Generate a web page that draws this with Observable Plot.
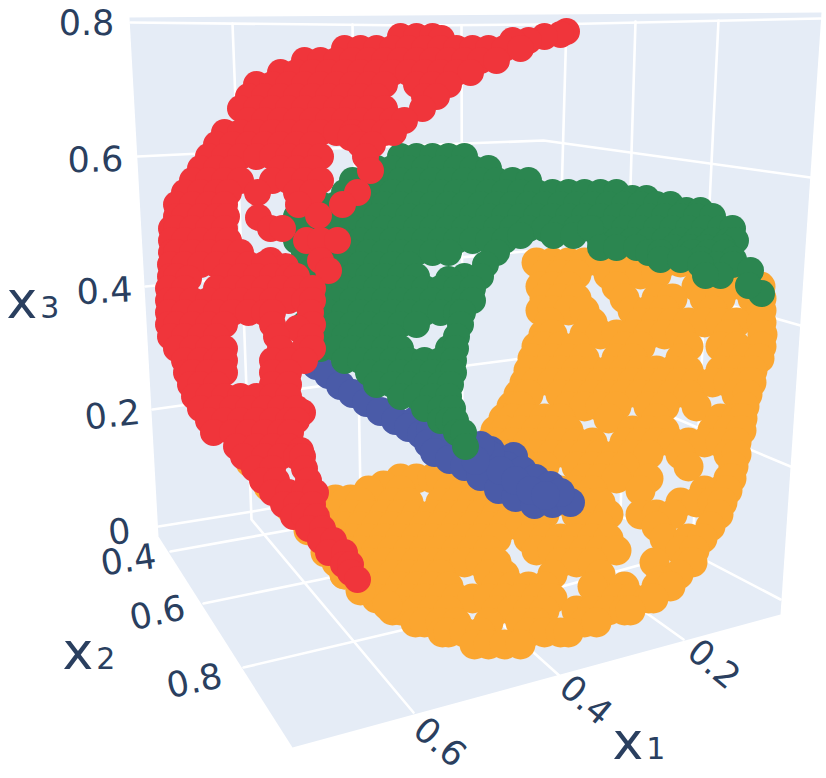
<!DOCTYPE html>
<html>
<head>
<meta charset="utf-8">
<script src="https://cdn.jsdelivr.net/npm/d3@7"></script>
<script src="https://cdn.jsdelivr.net/npm/@observablehq/plot@0.6"></script>
<style>html,body{margin:0;padding:0;background:#fff}svg{display:block}</style>
</head>
<body>
<div id="chart"></div>
<script>
// Projected view coordinates: [v, [u, u, ...]]
const orangeRows = [
[262,[536,552,568,584,600,616,632,648,664,680,696]],
[274,[544,560,576,608,624,640,656,704,720,736]],
[286,[540,552,568,616,696,712,728,744,760]],
[298,[544,560,576,624,656,672,704,720,752,761]],
[310,[540,552,568,584,632,648,664,712,760,761]],
[322,[549,592,640,656,672,688,704,720,736,761]],
[334,[543,552,584,600,616,632,648,664,680,728,762]],
[346,[536,544,560,576,624,640,688,720,736,761]],
[358,[532,552,568,584,616,632,680,728,744,759]],
[370,[528,544,560,576,592,608,624,640,656,672,688,720,736,752]],
[382,[524,536,552,568,584,600,616,632,648,664,680,696,712,728,744,751]],
[394,[518,528,560,576,592,608,624,640,656,672,688,736,747]],
[406,[511,520,568,584,600,616,648,664,696,744]],
[418,[503,512,528,544,560,608,656,720,736,742]],
[430,[495,504,520,536,552,568,632,648,664,712,728,741]],
[442,[488,496,512,528,544,560,576,592,624,640,656,672,688,704,720,736]],
[454,[488,504,520,536,552,568,584,600,616,632,648,680,728,736]],
[466,[496,512,528,544,576,592,608,624,688,733]],
[478,[400,416,432,440,456,472,488,504,520,536,584,600,616,648,728,731]],
[485,[383]],
[490,[368,400,448,464,480,496,512,528,544,560,576,592,640,704,720,727]],
[499,[350,335]],
[502,[344,360,392,408,440,456,472,488,504,520,536,552,568,584,600,680,696,712,722]],
[514,[336,352,368,384,400,416,432,448,464,480,496,512,528,544,576,592,608,640,656,672,718]],
[526,[344,360,376,392,408,424,440,456,472,488,504,520,536,584,600,656,710]],
[538,[352,368,384,400,416,432,448,464,480,496,528,544,560,576,592,608,664,688,702]],
[550,[344,360,376,392,408,424,440,456,472,488,536,552,568,584,600,616,680,694]],
[562,[336,352,368,384,400,416,432,448,464,480,496,560,576,592,654,686,692]],
[574,[344,360,376,392,408,424,440,488,504,552,600,678]],
[580,[660]],
[586,[368,384,400,416,432,448,496,512,528,544,592,624,656,670]],
[598,[376,392,408,424,440,456,472,488,504,520,536,552,616,632,648,653]],
[610,[392,400,416,432,448,496,512,528,544,576,592,608,624,630]],
[622,[415,424,440,456,488,520,536,584,596]],
[632,[442,448,464,480,528,544,560,568]],
[644,[474,488,504,520]],
[462,[250]],[486,[268]],[508,[290]],[530,[308]],[552,[325]],[574,[344]],[590,[360]],[605,[387]]
];
const blueRows = [
[365,[316]],[374,[328]],[385,[340]],[393,[352]],[402,[366]],[411,[380]],[420,[395,415]],[427,[408]],
[434,[421]],[430,[430]],[443,[428]],[440,[445]],[452,[434]],[450,[460,490]],[459,[449]],[466,[464]],
[476,[480]],[489,[498]],[497,[515]],[504,[534]],[503,[552]],[502,[570]],[456,[513]],[465,[505]],
[455,[490]],[445,[480]],[470,[522,500]],[478,[535]],[485,[550]],[492,[560]],[480,[515]],[490,[530]],
[495,[545]],[460,[475]]
];
const greenRows = [
[156,[400,416,432,448,464]],
[168,[376,392,408,424,440,456,472,488]],
[180,[352,368,384,400,416,432,448,464,480,496,512,528]],
[192,[344,360,376,392,408,424,440,456,472,488,504,520,536,552,568,584,600,616]],
[198,[632,646]],
[204,[320,336,352,368,384,400,416,432,448,464,480,496,512,528,544,560,576,592,608,624,640,656,670]],
[210,[686,700]],
[216,[296,312,328,344,360,376,392,408,424,440,456,472,488,504,520,536,552,568,584,600,616,632,648,664,680,696,712]],
[228,[288,304,320,336,352,368,384,400,416,432,448,464,480,496,512,528,544,560,576,592,608,624,640,656,672,688,704,720,732]],
[240,[296,312,328,344,360,376,392,408,424,440,456,472,488,504,600,616,632,648,664,680,696,712,728,735]],
[235,[520,553,573]],[228,[590]],
[247,[600,616,636,673,690,705,722]],
[252,[304,320,336,352,368,384,400,416,432,448,496,648,660,692,708,724]],
[259,[660,700,733,680]],
[264,[312,328,344,360,376,392,408,485,716,732,700]],
[275,[720,705]],[270,[750]],[293,[761]],[285,[748]],
[276,[320,336,352,368,384,400,416,464,480]],[279,[448]],
[288,[328,344,360,376,392,408,424,440,456,472]],
[300,[304,320,336,352,368,384,400,416,432,448,464,472]],
[312,[312,328,344,360,376,392,408,424,440,456,462]],
[324,[304,320,336,352,368,384,400,416,460]],
[336,[312,328,344,360,376,392,456]],
[348,[320,336,352,368,384,400,448,455]],
[360,[344,360,376,392,408,424,440,453]],
[372,[368,384,400,416,432,448,453]],
[384,[376,392,408,424,440,450]],
[396,[400,416,432,448]],
[408,[424,440,452]],
[420,[440,448,455]],
[432,[456,463]],
[446,[465]]
];
const redRows = [
[31,[566]],[34,[560]],[36,[400,416,432,544]],[38,[441]],[40,[528,512]],
[48,[344,360,376,392,408,424,440,456,472,488,504,520]],
[60,[304,320,336,352,368,384,400,416,432,448,464,480,496]],
[72,[280,296,312,328,344,360,376,392,408,424,440,456,470]],
[84,[256,272,288,304,320,336,352,368,384,416,432,448]],
[96,[248,264,280,296,312,328,344,360,376,424,436]],
[108,[240,256,272,288,304,320,336,352,368,384,422]],
[120,[248,264,280,296,312,328,344,360,376,392,404]],
[132,[224,240,256,272,288,304,320,336,352,368,384,393]],
[137,[350]],
[144,[216,232,248,264,280,296,312,360,372]],
[156,[208,224,240,256,272,288,304,320,365]],
[168,[200,216,232,280,296,312]],[170,[370]],
[180,[192,208,224,240,272,288,304,320]],
[192,[184,200,216,228,257,296,312,357]],
[204,[176,192,208,224,298,342]],
[217,[258]],[215,[318]],
[216,[176,184,200,216,226]],
[228,[171,176,192,208,224,270,282]],
[240,[171,184,200,216,228,306,320,337]],
[252,[171,176,192,208,224,240]],
[260,[270,320]],[266,[285]],[270,[328]],
[264,[170,184,200,216,232,248,264]],
[276,[170,176,224,240,256,272,288,296]],[278,[188]],
[288,[168,184,216,232,248,264,280,296,312]],
[300,[168,176,192,208,224,240,256,272,288,304,312]],
[312,[168,184,200,216,232,248,264,272,310]],
[324,[168,176,192,208,224,272,312]],[328,[297]],
[336,[170,184,200,216,276,310]],
[348,[176,192,208,224,280,304,312]],
[360,[184,200,216,224,272,288,304]],
[372,[186,192,208,224,272,288]],
[384,[190,200,216,272,288]],
[396,[194,208,224,240,256,272,288]],
[412,[302]],
[408,[200,216,232,248,264,280,296]],
[420,[208,224,240,256,272,288,296]],
[432,[213,232,248,264,280,290]],
[446,[236,256,272,288]],[450,[300]],
[456,[243,264,280,296,302]],
[468,[254,272,304]],
[480,[262,276,308]],
[492,[272,288,304,315]],
[504,[283,296,312]],
[516,[293,304,316]],
[528,[308,322]],
[540,[320,333]],
[552,[328,344]],
[564,[343,350]],
[572,[350]],
[579,[357]]
];

const palette = {orange:"#FBA630", blue:"#4A5BA8", green:"#2B8650", red:"#F0353B"};
const markerSize = {orange:15, blue:14.5, green:13.5, red:13.5};
const wall = [[129,17],[821,12],[780,614],[292,747],[158,536]];
const gridLines = [
[[130,22],[413,25],[548,24],[820,18]],
[[137,156],[200,153],[543,140],[810,177]],
[[145,286],[535,250],[800,325]],
[[152,409],[467,365],[521,358],[530,357],[790,466]],
[[158,526],[252,511],[520,463],[780,599]],
[[170,551],[292,529],[553,478]],
[[203,603],[320,579],[620,513]],
[[243,667],[413,627],[692,550]],
[[232,23],[251,519],[413,712]],
[[352,24],[360,496],[562,678]],
[[461,25],[462,481],[683,639]],
[[566,22],[553,478]],
[[635,21],[620,513]],
[[718,20],[692,550]]
];
const tickLabels = ["0.8","0.6","0.4","0.2","0","0.4","0.6","0.8","0.2","0.4","0.6"];
const tickU = [86,95,104,112,119,128,157,194,713,585,439];
const tickV = [23,160,291,415,532,560,613,681,664,700,742];
const tickTurn = [0,-1,-3,-6,-6,-8,-12,-12,40,40,40];
const titleNames = ["x1","x2","x3"];
const titleU = [612,62,6];
const titleV = [758,668,317];

const rowsToPoints = rows => rows.flatMap(([v,us]) => us.map(u => ({u,v})));
const linePoints = gridLines.flatMap((seg,i) => seg.map(([u,v]) => ({u,v,i})));
const wallPoints = wall.map(([u,v]) => ({u,v}));
const ticks = tickLabels.map((t,i) => ({t,u:tickU[i],v:tickV[i],a:tickTurn[i]}));
const titles = titleNames.map((t,i) => ({t,u:titleU[i],v:titleV[i]}));
const font = "DejaVu Sans";

const plot = Plot.plot({
  width:826, height:778, margin:0,
  x:{domain:[0,826],axis:null}, y:{domain:[778,0],axis:null},
  style:{background:"#fff"},
  marks:[
    Plot.line(wallPoints,{x:"u",y:"v",fill:"#E5ECF6",stroke:"none"}),
    Plot.line(linePoints,{x:"u",y:"v",z:"i",stroke:"#fff",strokeWidth:2.6}),
    Plot.dot(rowsToPoints(orangeRows),{x:"u",y:"v",r:markerSize.orange,fill:palette.orange}),
    Plot.dot(rowsToPoints(blueRows),{x:"u",y:"v",r:markerSize.blue,fill:palette.blue}),
    Plot.dot(rowsToPoints(greenRows),{x:"u",y:"v",r:markerSize.green,fill:palette.green}),
    Plot.dot(rowsToPoints(redRows),{x:"u",y:"v",r:markerSize.red,fill:palette.red}),
    Plot.text(ticks,{x:"u",y:"v",text:"t",rotate:"a",fontFamily:font,fontSize:35,fill:"#2a3f5f",textAnchor:"middle"}),
    Plot.text(titles,{x:"u",y:"v",text:"t",fontFamily:font,fontSize:52,fill:"#2a3f5f",textAnchor:"start",lineAnchor:"bottom"})
  ]
});
d3.select(plot).selectAll("text").filter(function(){return titleNames.includes(this.textContent)}).each(function(){
  const s = d3.select(this), t = this.textContent;
  const tn = s.select("tspan").empty() ? s : s.select("tspan");
  tn.text(t[0]);
  tn.append("tspan").attr("font-size",30).attr("dx",3).text(t[1]);
});
document.getElementById("chart").appendChild(plot);
</script>
</body>
</html>
